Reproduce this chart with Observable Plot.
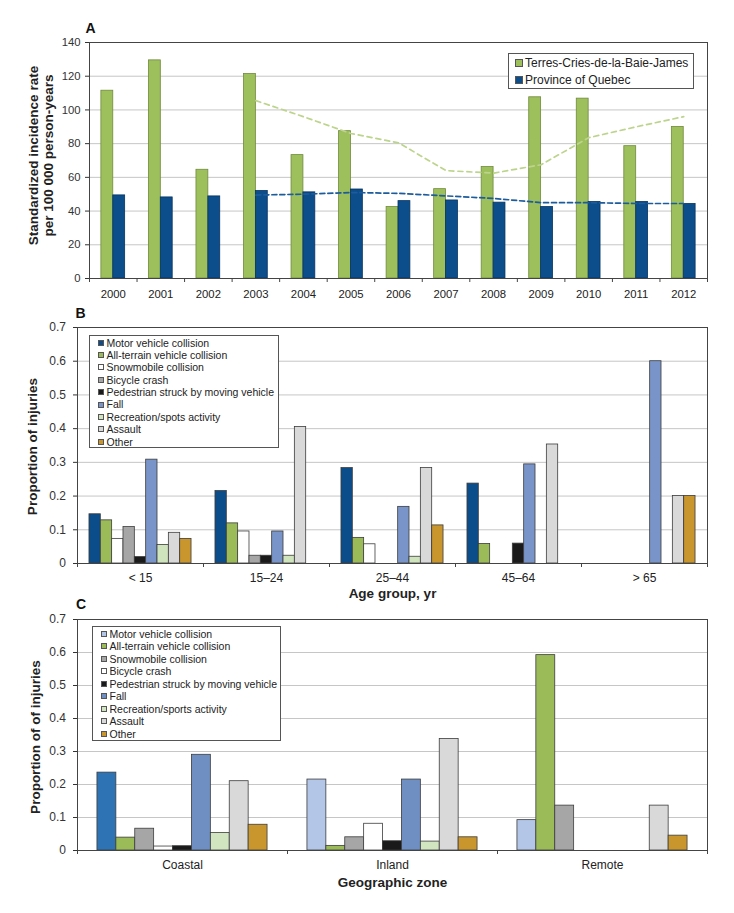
<!DOCTYPE html>
<html>
<head>
<meta charset="utf-8">
<script src="https://cdn.jsdelivr.net/npm/d3@7"></script>
<script src="https://cdn.jsdelivr.net/npm/@observablehq/plot@0.6"></script>
<style>
  body { margin: 0; background: #fff; font-family: "Liberation Sans", Arial, sans-serif; }
  #wrap { position: relative; width: 734px; height: 913px; overflow: hidden; background: #fff; }
  .panel { position: absolute; left: 0; }
  .legend { position: absolute; border: 1px solid #555; background: #fff; box-sizing: border-box; color: #222; }
  .legend .row { display: flex; align-items: center; white-space: nowrap; }
  .legend .sw { display: inline-block; border: 1px solid #555; box-sizing: border-box; flex: none; }
</style>
</head>
<body>
<div id="wrap"></div>
<script>
// ---------- Panel A data ----------
const yearsA = ["2000","2001","2002","2003","2004","2005","2006","2007","2008","2009","2010","2011","2012"];
const seriesA = ["Terres-Cries-de-la-Baie-James", "Province of Quebec"];
const terresRates = [111.4, 129.4, 64.5, 121.3, 73.2, 87.4, 42.4, 53.0, 66.1, 107.5, 106.7, 78.5, 89.9];
const quebecRates = [49.3, 48.1, 48.7, 51.9, 51.1, 52.8, 45.9, 46.3, 45.0, 42.4, 45.4, 45.4, 44.2];
const trendYears = ["2003","2004","2005","2006","2007","2008","2009","2010","2011","2012"];
const terresTrend = [105.5, 96, 86, 80.5, 64, 62.5, 67.5, 83.5, 90, 96];
const quebecTrend = [49.5, 50, 51, 50.5, 49, 47.5, 45, 45, 44.5, 44.5];
const yTicksA = [0, 20, 40, 60, 80, 100, 120, 140];

// ---------- Panel B data ----------
const ageGroups = ["< 15", "15–24", "25–44", "45–64", "> 65"];
const causesB = ["Motor vehicle collision", "All-terrain vehicle collision", "Snowmobile collision", "Bicycle crash",
  "Pedestrian struck by moving vehicle", "Fall", "Recreation/spots activity", "Assault", "Other"];
const ageMotorVehicle = [0.146, 0.215, 0.283, 0.237, 0];
const ageAllTerrain   = [0.128, 0.119, 0.076, 0.058, 0];
const ageSnowmobile   = [0.073, 0.095, 0.057, 0, 0];
const ageBicycle      = [0.108, 0.023, 0, 0, 0];
const agePedestrian   = [0.019, 0.023, 0, 0.059, 0];
const ageFall         = [0.308, 0.095, 0.168, 0.294, 0.6];
const ageRecreation   = [0.055, 0.023, 0.02, 0, 0];
const ageAssault      = [0.091, 0.405, 0.283, 0.353, 0.2];
const ageOther        = [0.073, 0, 0.113, 0, 0.2];

// ---------- Panel C data ----------
const zones = ["Coastal", "Inland", "Remote"];
const causesC = ["Motor vehicle collision", "All-terrain vehicle collision", "Snowmobile collision", "Bicycle crash",
  "Pedestrian struck by moving vehicle", "Fall", "Recreation/sports activity", "Assault", "Other"];
const zoneMotorVehicle = [0.236, 0.215, 0.092];
const zoneAllTerrain   = [0.039, 0.014, 0.592];
const zoneSnowmobile   = [0.066, 0.040, 0.136];
const zoneBicycle      = [0.012, 0.081, 0];
const zonePedestrian   = [0.013, 0.028, 0];
const zoneFall         = [0.290, 0.215, 0];
const zoneRecreation   = [0.053, 0.027, 0];
const zoneAssault      = [0.210, 0.338, 0.136];
const zoneOther        = [0.078, 0.040, 0.045];
const yTicksProp = [0, 0.1, 0.2, 0.3, 0.4, 0.5, 0.6, 0.7];

// ---------- styles ----------
const FONT = "'Liberation Sans', Arial, Helvetica, sans-serif";
const colorsA = ["#9dbf5c", "#0c4d8c"];
const colorsB = ["#0b4c8b", "#9bbb59", "#ffffff", "#a6a6a6", "#1a1a1a", "#7894c9", "#cfe3bd", "#d9d9d9", "#c9962d"];
const colorsC = ["#b4c6e7", "#9bbb59", "#a6a6a6", "#ffffff", "#1a1a1a", "#6f8fc3", "#d0e5c0", "#d9d9d9", "#c9962d"];
const coastalMotorFill = "#2e74b5";

const wrap = document.getElementById("wrap");

function panel(o) {
  const bw = (1 - 2 * o.pad) / o.series.length;
  const rows = [];
  o.series.forEach((s, si) => o.groups.forEach((g, gi) => rows.push({group: g, gi, series: s, si, value: o.values[si][gi]})));
  const frameH = o.height - o.mt - o.mb;
  const tickUnits = 4 * o.yMax / frameH;
  const bounds = d3.range(o.groups.length + 1);
  const marks = [
    Plot.ruleY(o.yTicks.filter(t => t > 0 && t < o.yMax), {stroke: "#c6c6c6", strokeWidth: 1}),
    Plot.rect(rows.filter(d => d.value > 0), {
      x1: d => d.gi + o.pad + d.si * bw,
      x2: d => d.gi + o.pad + (d.si + 1) * bw,
      y1: d => 0, y2: "value",
      fill: d => o.fillFn(d), stroke: d => o.strokeFn(d), strokeWidth: 0.8
    }),
    ...(o.extra || []),
    Plot.frame({stroke: "#444", strokeWidth: 1}),
    Plot.ruleX(bounds, {x: d => d, y1: d => 0, y2: d => -tickUnits, stroke: "#444"}),
    Plot.text(o.groups, {x: (d, i) => i + 0.5, y: d => 0, dy: o.xLabelDy, text: d => d, fontSize: o.catFont,
      fill: "#222", lineAnchor: "middle"}),
    Plot.text([o.letter], {frameAnchor: "top-left", textAnchor: "start", lineAnchor: "middle", dx: o.letterDx, dy: o.letterDy,
      text: d => d, fontWeight: "bold", fontSize: 14, fill: "#111"}),
    Plot.text([o.yTitle], {frameAnchor: "left", textAnchor: "middle", lineAnchor: "middle", rotate: -90,
      dx: o.yTitleDx, dy: o.yTitleDy, text: d => d,
      fontWeight: "bold", fontSize: 13.5, lineHeight: 1.15, fill: "#222"})
  ];
  if (o.xTitle) marks.push(Plot.text([o.xTitle], {frameAnchor: "bottom", textAnchor: "middle", lineAnchor: "middle",
      dy: o.xTitleDy, text: d => d, fontWeight: "bold", fontSize: 13.5, fill: "#222"}));
  const chart = Plot.plot({
    width: 734, height: o.height,
    marginTop: o.mt, marginBottom: o.mb, marginLeft: o.ml, marginRight: o.mr,
    style: {fontFamily: FONT, fontSize: o.tickFont + "px", color: "#333", background: "transparent", overflow: "visible"},
    x: {domain: [0, o.groups.length], axis: null},
    y: {domain: [0, o.yMax], ticks: o.yTicks, tickSize: 4, tickPadding: o.tickPadding, tickFormat: o.tickFormat, label: null},
    color: {type: "identity"},
    marks
  });
  const div = document.createElement("div");
  div.className = "panel";
  div.style.top = o.top + "px";
  div.appendChild(chart);
  wrap.appendChild(div);
}

function legend(o) {
  const box = d3.select(wrap).append("div").attr("class", "legend")
    .style("left", o.left + "px").style("top", o.top + "px")
    .style("width", o.width + "px").style("height", o.height + "px")
    .style("padding-left", o.padLeft + "px").style("padding-top", o.padTop + "px")
    .style("font-size", o.font + "px").style("font-family", FONT);
  o.items.forEach((name, i) => {
    const row = box.append("div").attr("class", "row").style("height", o.rowH + "px").style("line-height", o.rowH + "px");
    row.append("span").attr("class", "sw")
      .style("width", o.sw + "px").style("height", o.sw + "px").style("margin-right", o.gap + "px")
      .style("background", o.fills[i]);
    row.append("span").text(name);
  });
}

// ---------- Panel A ----------
const trendRows = (vals) => trendYears.map((y, i) => ({gi: yearsA.indexOf(y), v: vals[i]}));
panel({
  top: 0, height: 305, mt: 42, mb: 27, ml: 89, mr: 27,
  groups: yearsA, series: seriesA, values: [terresRates, quebecRates], pad: 0.25,
  fillFn: d => colorsA[d.si], strokeFn: d => d.si === 0 ? "#6f8a3c" : "#06345f",
  yMax: 140, yTicks: yTicksA, tickFormat: d => String(d), tickFont: 11.3, tickPadding: 5, catFont: 11.3,
  xLabelDy: 16, letter: "A", letterDx: -4, letterDy: -14,
  yTitle: "Standardized incidence rate\nper 100 000 person-years", yTitleDx: -49, yTitleDy: -5,
  extra: [
    Plot.line(trendRows(terresTrend), {x: d => d.gi + 0.5, y: "v", stroke: "#bcd48c", strokeWidth: 1.7, strokeDasharray: "5,4"}),
    Plot.line(trendRows(quebecTrend), {x: d => d.gi + 0.5, y: "v", stroke: "#1d5c9c", strokeWidth: 1.7, strokeDasharray: "5,3"})
  ]
});
legend({left: 508, top: 53, width: 186, height: 36, padLeft: 6, padTop: 0.5, rowH: 17, font: 12, sw: 8, gap: 2,
  items: seriesA, fills: colorsA});

// ---------- Panel B ----------
panel({
  top: 305, height: 295, mt: 22, mb: 37, ml: 77, mr: 27,
  groups: ageGroups, series: causesB,
  values: [ageMotorVehicle, ageAllTerrain, ageSnowmobile, ageBicycle, agePedestrian, ageFall, ageRecreation, ageAssault, ageOther],
  pad: 0.095,
  fillFn: d => colorsB[d.si], strokeFn: d => "#3c3c3c",
  yMax: 0.7, yTicks: yTicksProp, tickFormat: d => d === 0 ? "0" : d.toFixed(1), tickFont: 12, tickPadding: 7.5, catFont: 12,
  xLabelDy: 14.5, letter: "B", letterDx: -2, letterDy: -13.5,
  yTitle: "Proportion of injuries", yTitleDx: -45, yTitleDy: 1,
  xTitle: "Age group, yr", xTitleDy: 30
});
legend({left: 89, top: 335, width: 190, height: 113, padLeft: 8, padTop: 0.5, rowH: 12.4, font: 10.5, sw: 6, gap: 2.5,
  items: causesB, fills: colorsB});

// ---------- Panel C ----------
panel({
  top: 600, height: 313, mt: 19, mb: 63, ml: 77, mr: 27,
  groups: zones, series: causesC,
  values: [zoneMotorVehicle, zoneAllTerrain, zoneSnowmobile, zoneBicycle, zonePedestrian, zoneFall, zoneRecreation, zoneAssault, zoneOther],
  pad: 0.095,
  fillFn: d => (d.gi === 0 && d.si === 0) ? coastalMotorFill : colorsC[d.si], strokeFn: d => "#3c3c3c",
  yMax: 0.7, yTicks: yTicksProp, tickFormat: d => d === 0 ? "0" : d.toFixed(1), tickFont: 12, tickPadding: 7.5, catFont: 12,
  xLabelDy: 15, letter: "C", letterDx: -1.5, letterDy: -15,
  yTitle: "Proportion of of injuries", yTitleDx: -42, yTitleDy: 2,
  xTitle: "Geographic zone", xTitleDy: 32
});
legend({left: 92, top: 626, width: 189, height: 115, padLeft: 8, padTop: 0.5, rowH: 12.5, font: 10.5, sw: 6, gap: 2.5,
  items: causesC, fills: colorsC});
</script>
</body>
</html>
